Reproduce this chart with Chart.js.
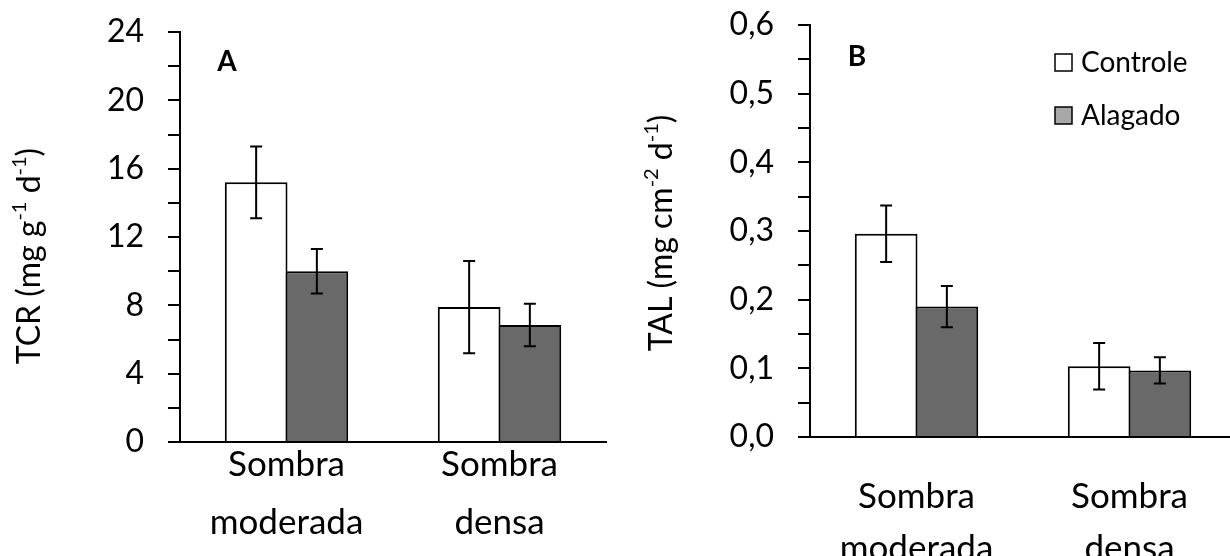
<!DOCTYPE html>
<html>
<head>
<meta charset="utf-8">
<script src="https://cdn.jsdelivr.net/npm/chart.js@4.4.0/dist/chart.umd.min.js"></script>
<style>
  html, body { margin: 0; padding: 0; background: #fff; overflow: hidden; }
  #wrap { position: relative; width: 1230px; height: 556px; overflow: hidden; }
  canvas { position: absolute; top: 0; }
  #chart-a { left: 0; }
  #chart-b { left: 630px; }
</style>
</head>
<body>
<div id="wrap">
  <canvas id="chart-a" width="630" height="556"></canvas>
  <canvas id="chart-b" width="630" height="556"></canvas>
</div>
<script>
// Data
const categorias = [['Sombra', 'moderada'], ['Sombra', 'densa']];
const series = ['Controle', 'Alagado'];

const tcrControle = [15.2, 7.9];
const tcrControleErro = [2.1, 2.7];
const tcrAlagado = [10.0, 6.85];
const tcrAlagadoErro = [1.3, 1.25];

const talControle = [0.296, 0.103];
const talControleErro = [0.041, 0.034];
const talAlagado = [0.19, 0.097];
const talAlagadoErro = [0.03, 0.019];

const tcrEixo = { max: 24, step: 2, labelEvery: 4 };
const talEixo = { max: 0.6, step: 0.05, labelEvery: 0.1 };

const FONT = 'Lato, "Open Sans", sans-serif';
const COR_ALAGADO = '#696969';
const COR_LEGENDA_ALAGADO = '#a8a8a8';

Chart.defaults.font.family = FONT;
Chart.defaults.color = '#000';

// Error bars
const errorBars = {
    id: 'errorBars',
    afterDatasetsDraw(chart) {
        const ctx = chart.ctx;
        const y = chart.scales.y;
        chart.data.datasets.forEach((ds, i) => {
            chart.getDatasetMeta(i).data.forEach((bar, j) => {
                const top = y.getPixelForValue(ds.data[j] + ds.errors[j]);
                const bot = y.getPixelForValue(ds.data[j] - ds.errors[j]);
                ctx.save();
                ctx.strokeStyle = '#000';
                ctx.lineWidth = 2;
                ctx.beginPath();
                ctx.moveTo(bar.x, top); ctx.lineTo(bar.x, bot);
                ctx.moveTo(bar.x - 6, top); ctx.lineTo(bar.x + 6, top);
                ctx.moveTo(bar.x - 6, bot); ctx.lineTo(bar.x + 6, bot);
                ctx.stroke();
                ctx.restore();
            });
        });
    }
};

// Rotated axis title with superscripts, panel letter and legend
const extras = {
    id: 'extras',
    afterDraw(chart, args, opts) {
        const ctx = chart.ctx;
        ctx.save();
        ctx.fillStyle = '#000';

        // y title
        const big = '32px ' + FONT, small = '20px ' + FONT;
        let total = 0;
        opts.title.forEach(p => { ctx.font = p.sup ? small : big; total += ctx.measureText(p.t).width; });
        ctx.translate(opts.titleX, opts.titleY);
        ctx.rotate(-Math.PI / 2);
        ctx.textBaseline = 'middle';
        ctx.textAlign = 'left';
        let x = -total / 2;
        opts.title.forEach(p => {
            ctx.font = p.sup ? small : big;
            ctx.fillText(p.t, x, p.sup ? -10 : 0);
            x += ctx.measureText(p.t).width;
        });
        ctx.setTransform(1, 0, 0, 1, 0, 0);

        // panel letter
        ctx.font = 'bold 28px ' + FONT;
        ctx.textAlign = 'center';
        ctx.textBaseline = 'alphabetic';
        ctx.fillText(opts.letter, opts.letterX, opts.letterY);

        // legend
        if (opts.legend) {
            ctx.font = '28px ' + FONT;
            ctx.textAlign = 'left';
            ctx.textBaseline = 'middle';
            chart.data.datasets.forEach((ds, i) => {
                const by = opts.legend.y + i * opts.legend.gap;
                ctx.fillStyle = ds.legendColor;
                ctx.fillRect(opts.legend.x, by, 17, 17);
                ctx.strokeStyle = '#000';
                ctx.lineWidth = 1.5;
                ctx.strokeRect(opts.legend.x, by, 17, 17);
                ctx.fillStyle = '#000';
                ctx.fillText(ds.label, opts.legend.x + 26, by + 9);
            });
        }
        ctx.restore();
    }
};

function makeDatasets(controle, controleErro, alagado, alagadoErro) {
    return [
        { label: series[0], data: controle, errors: controleErro, backgroundColor: '#fff', legendColor: '#fff' },
        { label: series[1], data: alagado, errors: alagadoErro, backgroundColor: COR_ALAGADO, legendColor: COR_LEGENDA_ALAGADO }
    ].map(ds => Object.assign(ds, {
        borderColor: '#000',
        borderWidth: 2,
        categoryPercentage: 0.57,
        barPercentage: 1.033
    }));
}

function makeChart(canvasId, datasets, eixo, fmt, layout, extraOpts) {
    return new Chart(document.getElementById(canvasId), {
        type: 'bar',
        data: { labels: categorias, datasets },
        plugins: [errorBars, extras],
        options: {
            responsive: false,
            animation: false,
            layout: { padding: { top: layout.top, right: 24, left: 0, bottom: 0 } },
            plugins: { legend: { display: false }, tooltip: { enabled: false }, extras: extraOpts },
            scales: {
                x: {
                    grid: { display: false },
                    border: { display: true, color: '#000', width: 2 },
                    ticks: { font: { size: 35, lineHeight: layout.lh }, padding: layout.xPad, color: '#000', maxRotation: 0 },
                    afterFit: s => { s.height = 556 - layout.bottom; s.paddingLeft = 0; s.paddingRight = 0; }
                },
                y: {
                    min: 0,
                    max: eixo.max,
                    ticks: {
                        stepSize: eixo.step,
                        font: { size: 32 },
                        padding: 24,
                        color: '#000',
                        autoSkip: false,
                        callback: v => fmt(v)
                    },
                    grid: { drawOnChartArea: false, drawTicks: true, tickLength: 12, color: '#000', lineWidth: 2 },
                    border: { display: true, color: '#000', width: 2 },
                    afterFit: s => { s.width = 180; s.paddingTop = 0; s.paddingBottom = 0; }
                }
            }
        }
    });
}

// Panel A
makeChart('chart-a',
    makeDatasets(tcrControle, tcrControleErro, tcrAlagado, tcrAlagadoErro),
    tcrEixo,
    v => (Math.round(v) % tcrEixo.labelEvery === 0 ? String(Math.round(v)) : ''),
    { top: 32, bottom: 442, xPad: -14, lh: 1.65 },
    {
        title: [{ t: 'TCR (mg g' }, { t: '-1', sup: true }, { t: ' d' }, { t: '-1', sup: true }, { t: ')' }],
        titleX: 30, titleY: 256,
        letter: 'A', letterX: 227, letterY: 71
    });

// Panel B
makeChart('chart-b',
    makeDatasets(talControle, talControleErro, talAlagado, talAlagadoErro),
    talEixo,
    v => (Math.round(v * 100) % Math.round(talEixo.labelEvery * 100) === 0 ? v.toFixed(1).replace('.', ',') : ''),
    { top: 25, bottom: 437, xPad: 25, lh: 1.5 },
    {
        title: [{ t: 'TAL (mg cm' }, { t: '-2', sup: true }, { t: ' d' }, { t: '-1', sup: true }, { t: ')' }],
        titleX: 32, titleY: 233,
        letter: 'B', letterX: 227, letterY: 66,
        legend: { x: 425, y: 54, gap: 53 }
    });
</script>
</body>
</html>
